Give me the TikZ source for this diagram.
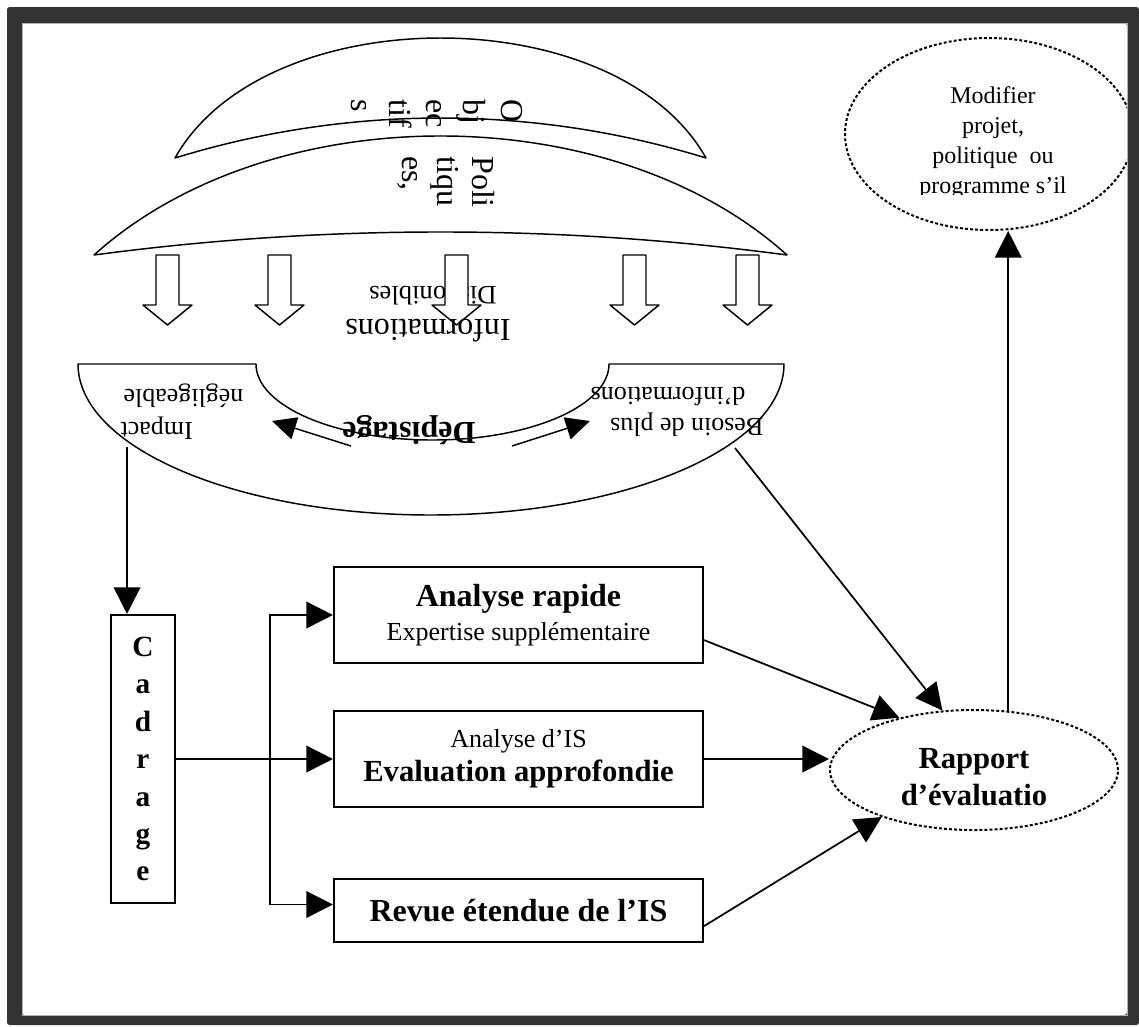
\documentclass[tikz,border=0pt]{standalone}
\usepackage{fontspec}
\setmainfont{Liberation Serif}
\usetikzlibrary{arrows.meta,shapes.geometric,calc}
\definecolor{framec}{HTML}{333333}
\newcommand\fsz[2]{\fontsize{#1}{#2}\selectfont}
\begin{document}
\begin{tikzpicture}[x=0.75pt,y=-0.75pt,
  lw/.style={line width=1.3pt},
  arr/.style={line width=1.3pt,-{Triangle[length=20pt,width=20pt]}},
  sarr/.style={line width=1.1pt,-{Triangle[length=18pt,width=17pt]}},
  outl/.style={line width=1.1pt,line join=round},
  boxn/.style={draw,line width=1.6pt,rectangle,minimum width=276.75pt,inner sep=0pt,align=center},
  dotell/.style={draw,ellipse,line width=1.5pt,dash pattern=on 2.2pt off 1.6pt,inner sep=0pt}
]
\useasboundingbox (0,0) rectangle (1139,1026);
\fill[white] (0,0) rectangle (1139,1026);

% lenses
\draw[outl] (175,158) .. controls (265,-2) and (616,-2) .. (706,158)
  .. controls (533,104.7) and (348,104.7) .. (175,158) -- cycle;
\draw[outl] (94,255) .. controls (270,96.3) and (611,96.3) .. (787,255)
  .. controls (557,224.3) and (324,224.3) .. (94,255) -- cycle;

\node[rotate=-90,align=left,inner sep=0pt,font=\fsz{24pt}{28pt}] (obj) at (437,114) {O\\bj\\ec\\tif\\s};
\node[rotate=-90,align=left,inner sep=0pt,font=\fsz{24pt}{26pt}] (pol) at (446,182) {Poli\\tiqu\\es,};

% information text
\node[rotate=180,align=left,inner sep=0pt,font=\fsz{24pt}{24.75pt}] (info) at (428,311)
  {{\fsz{24pt}{24.75pt}Informations}\\{\fsz{20pt}{24.75pt}\hspace*{10.5pt}Disponibles}};

% block arrows
\foreach \s in {156,268,623,736}{
  \filldraw[outl,fill=white] (\s,255) -- (\s,305) -- (\s-13,305) -- (\s+11.5,325) -- (\s+36,305) -- (\s+23,305) -- (\s+23,255) -- cycle;
}
\fill[white] (445,255) rectangle (468,305);
\draw[outl] (445,255) -- (445,305) -- (432,305) -- (456.5,325) -- (481,305) -- (468,305) -- (468,255) -- cycle;

% depistage bowl
\draw[outl] (78,364) -- (256,364) .. controls (256,406) and (335,440) .. (432.5,440)
  .. controls (530,440) and (609,406) .. (609,364) -- (784,364)
  .. controls (784,447.4) and (626,515) .. (431,515)
  .. controls (236,515) and (78,447.4) .. (78,364) -- cycle;

\node[rotate=180,inner sep=0pt,font=\fsz{24pt}{26pt}\bfseries] (dep) at (409,430) {Dépistage};
\node[rotate=180,align=left,inner sep=0pt,font=\fsz{19.5pt}{24.75pt}] (imp) at (182,412) {\hspace*{38pt}Impact\\négligeable};
\node[rotate=180,align=left,inner sep=0pt,font=\fsz{19.5pt}{23.25pt}] (bes) at (677,412) {Besoin de plus\\\hspace*{13.5pt}d’informations};

\coordinate (dl1) at (351,446); \coordinate (dl2) at (272,421);
\coordinate (dr1) at (512,446); \coordinate (dr2) at (590,421);
\draw[sarr] (dl1) -- (dl2);
\draw[sarr] (dr1) -- (dr2);

% cadrage and boxes
\node[draw,line width=1.6pt,minimum width=48pt,minimum height=216pt,inner sep=0pt,align=center,font=\fsz{22pt}{28.1pt}\bfseries] (cad) at (143,759) {C\\a\\d\\r\\a\\g\\e};

\node[boxn,minimum height=72pt,font=\fsz{19.5pt}{25.5pt}] (ar) at (518.5,615)
  {{\fsz{24pt}{25.5pt}\bfseries Analyse rapide}\\Expertise supplémentaire};
\node[boxn,minimum height=72pt,font=\fsz{19.5pt}{25.5pt}] (ev) at (518.5,759)
  {Analyse d’IS\\{\fsz{23pt}{25.5pt}\bfseries Evaluation approfondie}};
\node[boxn,minimum height=47.25pt,font=\fsz{24pt}{26pt}\bfseries] (rev) at (518.5,910.5) {Revue étendue de l’IS};

% ellipses
\node[dotell,minimum width=216pt,minimum height=90pt] (rap) at (974,770) {};
\node[align=center,inner sep=0pt,font=\fsz{23pt}{27.75pt}\bfseries] (rapt) at (974,777) {Rapport\\d’évaluatio};
\node[dotell,minimum width=216pt,minimum height=144pt] (mod) at (989,134) {};
\begin{scope}
  \clip (840,30) rectangle (1130,194);
  \node[align=center,inner sep=0pt,font=\fsz{18pt}{22.5pt}] (modt) at (993,143) {Modifier\\projet,\\politique\ \ ou\\programme s’il};
\end{scope}

% connectors
\coordinate (c1) at (127,447);
\draw[arr] (c1) -- (c1 |- cad.north);
\coordinate (sp) at (270,759);
\draw[lw] (cad.east) -- (sp);
\draw[arr] (sp) |- (ar.west);
\draw[arr] (sp) -- (ev.west);
\draw[arr] (sp) |- ($(rev.west)+(0,-6)$);
\draw[arr] ($(ar.south east)+(0,-24)$) -- (rap.145);
\draw[arr] (ev.east) -- (ev.east -| rap.west);
\draw[arr] ($(rev.south east)+(0,-17)$) -- (rap.207);
\coordinate (b1) at (735,448);
\draw[arr] (b1) -- (rap.118.5);
\draw[arr] (rap.60) -- (rap.60 |- mod.south);

% frame
\fill[framec,even odd rule,rounded corners=2pt] (7,7) rectangle (1139,1025) (22,23) rectangle (1127,1015);
\draw[gray!60,line width=0.6pt] (22,23) rectangle (1127,1015);
\end{tikzpicture}
\end{document}
